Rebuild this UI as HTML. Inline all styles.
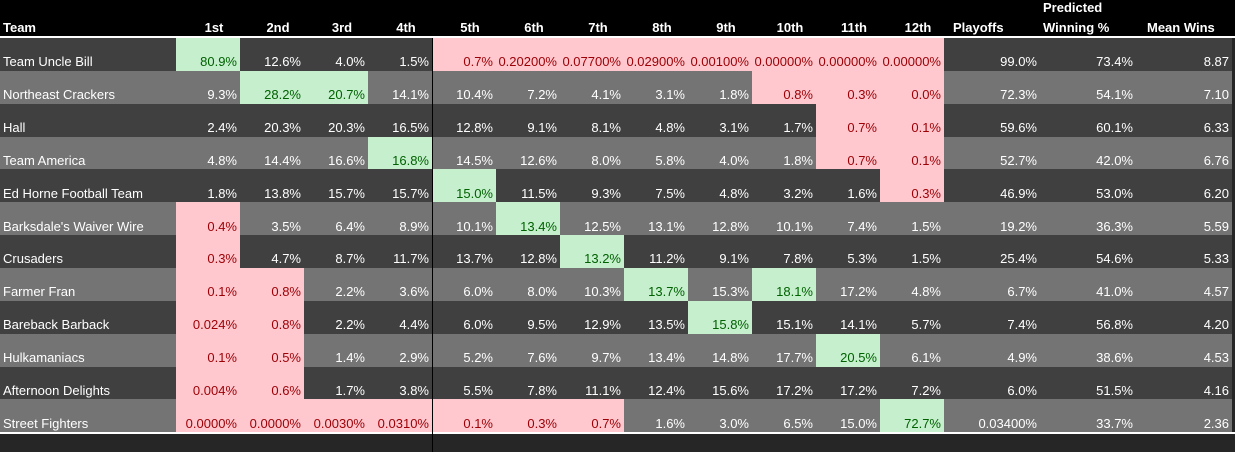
<!DOCTYPE html>
<html><head><meta charset="utf-8"><style>
html,body{margin:0;padding:0;background:#262626;}
#wrap{position:relative;width:1235px;height:452px;overflow:hidden;background:#262626;font-family:"Liberation Sans",sans-serif;}
#hdr{position:absolute;left:0;top:0;width:1235px;height:37px;background:#000;}
.h{position:absolute;color:#fff;font-weight:bold;font-size:13px;white-space:nowrap;}
.c{position:absolute;box-sizing:border-box;font-size:13px;white-space:nowrap;padding:0 3px;line-height:15px;display:flex;align-items:flex-end;padding-bottom:2px;}
</style></head><body>
<div id="wrap">
<div id="hdr"></div>
<div style="position:absolute;left:0;top:36px;width:1235px;height:2px;background:#fff"></div>
</div>
<script>
const teams=["Team Uncle Bill","Northeast Crackers","Hall","Team America","Ed Horne Football Team","Barksdale's Waiver Wire","Crusaders","Farmer Fran","Bareback Barback","Hulkamaniacs","Afternoon Delights","Street Fighters"];
const headers=["1st","2nd","3rd","4th","5th","6th","7th","8th","9th","10th","11th","12th"];
const values=[
["80.9%","12.6%","4.0%","1.5%","0.7%","0.20200%","0.07700%","0.02900%","0.00100%","0.00000%","0.00000%","0.00000%","99.0%","73.4%","8.87"],
["9.3%","28.2%","20.7%","14.1%","10.4%","7.2%","4.1%","3.1%","1.8%","0.8%","0.3%","0.0%","72.3%","54.1%","7.10"],
["2.4%","20.3%","20.3%","16.5%","12.8%","9.1%","8.1%","4.8%","3.1%","1.7%","0.7%","0.1%","59.6%","60.1%","6.33"],
["4.8%","14.4%","16.6%","16.8%","14.5%","12.6%","8.0%","5.8%","4.0%","1.8%","0.7%","0.1%","52.7%","42.0%","6.76"],
["1.8%","13.8%","15.7%","15.7%","15.0%","11.5%","9.3%","7.5%","4.8%","3.2%","1.6%","0.3%","46.9%","53.0%","6.20"],
["0.4%","3.5%","6.4%","8.9%","10.1%","13.4%","12.5%","13.1%","12.8%","10.1%","7.4%","1.5%","19.2%","36.3%","5.59"],
["0.3%","4.7%","8.7%","11.7%","13.7%","12.8%","13.2%","11.2%","9.1%","7.8%","5.3%","1.5%","25.4%","54.6%","5.33"],
["0.1%","0.8%","2.2%","3.6%","6.0%","8.0%","10.3%","13.7%","15.3%","18.1%","17.2%","4.8%","6.7%","41.0%","4.57"],
["0.024%","0.8%","2.2%","4.4%","6.0%","9.5%","12.9%","13.5%","15.8%","15.1%","14.1%","5.7%","7.4%","56.8%","4.20"],
["0.1%","0.5%","1.4%","2.9%","5.2%","7.6%","9.7%","13.4%","14.8%","17.7%","20.5%","6.1%","4.9%","38.6%","4.53"],
["0.004%","0.6%","1.7%","3.8%","5.5%","7.8%","11.1%","12.4%","15.6%","17.2%","17.2%","7.2%","6.0%","51.5%","4.16"],
["0.0000%","0.0000%","0.0030%","0.0310%","0.1%","0.3%","0.7%","1.6%","3.0%","6.5%","15.0%","72.7%","0.03400%","33.7%","2.36"]];
const green=[[1],[2,3],[],[4],[5],[6],[7],[8,10],[9],[11],[],[12]];
const pink=[[5,6,7,8,9,10,11,12],[10,11,12],[11,12],[11,12],[12],[1],[1],[1,2],[1,2],[1,2],[1,2],[1,2,3,4,5,6,7]];
const wrap=document.getElementById('wrap');
const colX=i=>176+64*i; // i=0..11 rank columns
const extraX=[944,1040,1136],extraW=96;
const rowY=r=>38+r*32.85, rowH=32.85;
function hdr(t,x,w,top,align,name){const d=document.createElement('div');d.className='h';


d.style.left=x+'px';d.style.top=top+'px';d.style.width=w+'px';d.style.textAlign=align;d.textContent=t;wrap.appendChild(d);}
hdr("Team",3,170,20,"left","header-team");
headers.forEach((h,i)=>hdr(h,colX(i)+6,64,20,"center","header-"+h));
hdr("Playoffs",953,90,20,"left","header-playoffs");
hdr("Predicted",1043,90,0,"left","header-predicted");
hdr("Winning %",1043,90,20,"left","header-winning-pct");
hdr("Mean Wins",1147,90,20,"left","header-mean-wins");
function cell(x,w,y,t,bg,fg,align,name){const d=document.createElement('div');d.className='c';


d.style.left=x+'px';d.style.top=y+'px';d.style.width=w+'px';d.style.height=(rowH+0.5)+'px';d.style.background=bg;d.style.color=fg;d.style.justifyContent=align;d.textContent=t;wrap.appendChild(d);}
teams.forEach((t,r)=>{
 const base=r%2===0?'#404040':'#747474';const y=rowY(r);
 cell(0,176,y,t,base,'#fff','flex-start','team-name');
 for(let i=0;i<12;i++){let bg=base,fg='#fff';
  if(green[r].includes(i+1)){bg='#c6efce';fg='#006100';}
  if(pink[r].includes(i+1)){bg='#ffc7ce';fg='#9c0006';}
  cell(colX(i),64,y,values[r][i],bg,fg,'flex-end','rank-cell');}
 for(let k=0;k<3;k++)cell(extraX[k],extraW,y,values[r][12+k],base,'#fff','flex-end',['playoffs-cell','winning-pct-cell','mean-wins-cell'][k]);
});
const ln=document.createElement('div');


ln.style.cssText='position:absolute;left:0;top:432px;width:1235px;height:2px;background:#fff';wrap.appendChild(ln);
const vl=document.createElement('div');


vl.style.cssText='position:absolute;left:432px;top:38px;width:1px;height:414px;background:#000';wrap.appendChild(vl);
</script>
</body></html>
